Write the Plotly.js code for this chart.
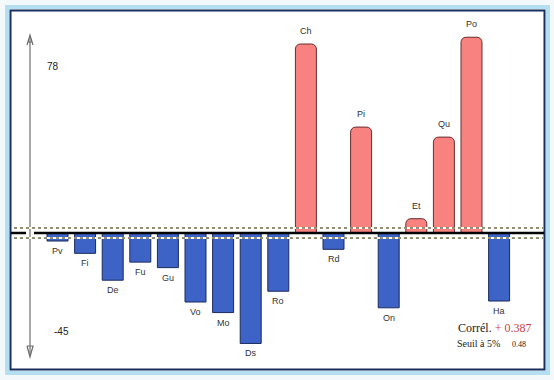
<!DOCTYPE html>
<html>
<head>
<meta charset="utf-8">
<script src="https://cdn.plot.ly/plotly-3.0.1.min.js"></script>
<style>html,body{margin:0;padding:0;background:#f3f9fb;}#chart{width:554px;height:380px;}</style>
</head>
<body>
<div id="chart"></div>
<script>
// Data
const categories = ['Pv','Fi','De','Fu','Gu','Vo','Mo','Ds','Ro','Ch','Rd','Pi','On','Et','Qu','Po','Ha'];
const values = [-3.2, -8.1, -18.8, -11.6, -13.8, -27.5, -31.7, -44.0, -23.2, 75.3, -6.5, 42.2, -29.8, 5.7, 38.2, 78.0, -27.1];
const axisMaxLabel = '78';
const axisMinLabel = '-45';
const threshold = 2;
const correlText = '+ 0.387';
const seuilText = '0.48';

const W = 554, H = 380;
const px = x => x / W;
const py = y => 1 - y / H;

const posVals = values.map(v => v >= 0 ? v : null);
const negVals = values.map(v => v < 0 ? v : null);

const traces = [
  {type:'bar', x:categories, y:posVals, width:0.76,
   marker:{color:'#f8827f', line:{color:'#6a2c2c', width:1}, cornerradius:5},
   hoverinfo:'x+y', showlegend:false},
  {type:'bar', x:categories, y:negVals, width:0.76,
   marker:{color:'#3d63c6', line:{color:'#1c2b5e', width:1}},
   hoverinfo:'x+y', showlegend:false}
];

const annotations = categories.map((c, i) => ({
  x:c, y:values[i], xref:'x', yref:'y', text:c, showarrow:false,
  yshift: values[i] >= 0 ? 13 : -10,
  font:{family:'Liberation Sans, Arial, sans-serif', size:9, color:'#333'}
}));
annotations.push(
  {xref:'paper', yref:'paper', x:px(45), y:py(59), text:axisMaxLabel, showarrow:false,
   font:{family:'Liberation Sans, Arial, sans-serif', size:10, color:'#222'}},
  {xref:'paper', yref:'paper', x:px(52), y:py(339), text:axisMinLabel, showarrow:false,
   font:{family:'Liberation Sans, Arial, sans-serif', size:10, color:'#222'}},
  {xref:'paper', yref:'paper', x:px(456), y:py(337), xanchor:'left', showarrow:false,
   text:'Corrél. <span style="color:#c8453f">' + correlText + '</span>',
   font:{family:'Liberation Serif, Times New Roman, serif', size:12, color:'#222'}},
  {xref:'paper', yref:'paper', x:px(455), y:py(351), xanchor:'left', showarrow:false,
   text:'Seuil à 5%',
   font:{family:'Liberation Serif, Times New Roman, serif', size:10, color:'#222'}},
  {xref:'paper', yref:'paper', x:px(510), y:py(351), xanchor:'left', showarrow:false,
   text:seuilText,
   font:{family:'Liberation Serif, Times New Roman, serif', size:8, color:'#222'}}
);

const shapes = [
  // outer light blue band
  {type:'rect', xref:'paper', yref:'paper', x0:px(7), x1:px(548), y0:py(7), y1:py(373),
   line:{color:'#b4dff0', width:4}, fillcolor:'rgba(0,0,0,0)', layer:'below'},
  // white interior with navy border
  {type:'rect', xref:'paper', yref:'paper', x0:px(10.5), x1:px(544.5), y0:py(10.5), y1:py(369.5),
   line:{color:'#1b2d5c', width:2}, fillcolor:'#ffffff', layer:'below'},
  // vertical axis
  {type:'line', xref:'paper', yref:'paper', x0:px(30), x1:px(30), y0:py(36), y1:py(356),
   line:{color:'#7a7a7a', width:1.3}, layer:'below'},
  {type:'path', xref:'paper', yref:'paper',
   path:'M '+px(27)+','+py(45)+' L '+px(30)+','+py(35)+' L '+px(33)+','+py(45)+' M '+px(27.5)+','+py(42)+' L '+px(32.5)+','+py(42),
   line:{color:'#6a6a6a', width:1.2}, layer:'below'},
  {type:'path', xref:'paper', yref:'paper',
   path:'M '+px(27)+','+py(346)+' L '+px(30)+','+py(357)+' L '+px(33)+','+py(346)+' L '+px(27)+','+py(346),
   line:{color:'#6a6a6a', width:1.2}, layer:'below'},
  // threshold bands (pale yellow under black dashes)
  {type:'line', xref:'paper', yref:'y', x0:px(14), x1:px(543), y0:threshold, y1:threshold,
   line:{color:'#fffbe0', width:2}},
  {type:'line', xref:'paper', yref:'y', x0:px(14), x1:px(543), y0:-threshold, y1:-threshold,
   line:{color:'#fffbe0', width:2}},
  {type:'line', xref:'paper', yref:'y', x0:px(14), x1:px(543), y0:threshold, y1:threshold,
   line:{color:'#222', width:1, dash:'3px,3px'}},
  {type:'line', xref:'paper', yref:'y', x0:px(14), x1:px(543), y0:-threshold, y1:-threshold,
   line:{color:'#222', width:1, dash:'3px,3px'}},
  // zero line with gap around the axis
  {type:'line', xref:'paper', yref:'y', x0:px(11), x1:px(26), y0:0, y1:0,
   line:{color:'#000', width:2.5}},
  {type:'line', xref:'paper', yref:'y', x0:px(34), x1:px(544), y0:0, y1:0,
   line:{color:'#000', width:2.5}}
];

// pixel-to-data mapping: bar i centre at 57.5 + 27.6*i px, zero at 233 px, 2.51 px/unit
const xStep = 27.6, x0px = 57.5, zeroPx = 233, yScale = 2.51;
const layout = {
  width:W, height:H,
  margin:{l:0, r:0, t:0, b:0, pad:0},
  paper_bgcolor:'#f3f9fb', plot_bgcolor:'rgba(0,0,0,0)',
  barmode:'overlay',
  xaxis:{type:'category', range:[(0 - x0px)/xStep, (W - x0px)/xStep],
         showgrid:false, zeroline:false, showticklabels:false, showline:false, ticks:''},
  yaxis:{range:[(zeroPx - H)/yScale, zeroPx/yScale],
         showgrid:false, zeroline:false, showticklabels:false, showline:false, ticks:''},
  shapes:shapes,
  annotations:annotations,
  showlegend:false
};

Plotly.newPlot('chart', traces, layout, {displayModeBar:false, staticPlot:true});
</script>
</body>
</html>
